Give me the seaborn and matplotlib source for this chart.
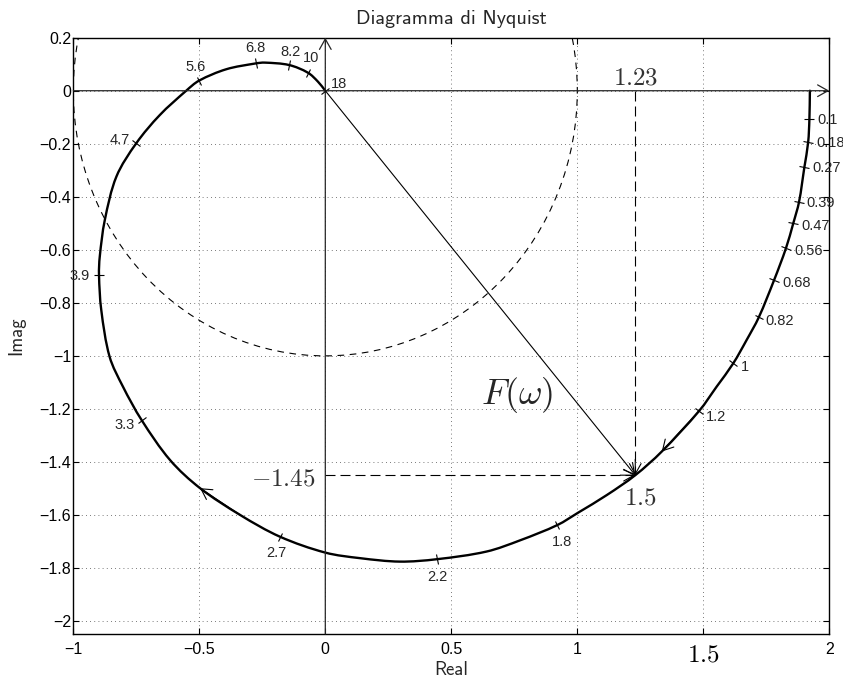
import numpy as np
import pandas as pd
import matplotlib
matplotlib.use("Agg")
import matplotlib.pyplot as plt
import seaborn as sns
from matplotlib.markers import MarkerStyle
from matplotlib.transforms import Affine2D
from matplotlib.patches import Circle, PathPatch
from matplotlib.path import Path

# Nyquist locus of F(jw), traced from w -> 0 up to w = 18 rad/s
re_curve = [1.923, 1.921, 1.916, 1.901, 1.880, 1.857, 1.828, 1.781, 1.720, 1.672,
            1.619, 1.553, 1.484, 1.335, 1.23, 1.117, 1.004, 0.921, 0.775, 0.640,
            0.442, 0.296, 0.138, 0.000, -0.180, -0.338, -0.497, -0.616, -0.729, -0.803,
            -0.856, -0.889, -0.898, -0.895, -0.875, -0.829, -0.750, -0.657, -0.552, -0.501,
            -0.393, -0.276, -0.240, -0.144, -0.069, -0.029, 0.000]
im_curve = [0.000, -0.108, -0.195, -0.289, -0.419, -0.500, -0.594, -0.714, -0.855, -0.940,
            -1.028, -1.116, -1.207, -1.361, -1.45, -1.525, -1.591, -1.638, -1.695, -1.738,
            -1.767, -1.776, -1.763, -1.742, -1.682, -1.600, -1.499, -1.393, -1.242, -1.116,
            -1.003, -0.827, -0.695, -0.626, -0.488, -0.324, -0.198, -0.092, 0.000, 0.038,
            0.081, 0.103, 0.106, 0.097, 0.068, 0.034, 0.000]

# labelled frequencies (rad/s) and their points on the locus
w_marks = ["0.1", "0.18", "0.27", "0.39", "0.47", "0.56", "0.68", "0.82", "1", "1.2",
           "1.8", "2.2", "2.7", "3.3", "3.9", "4.7", "5.6", "6.8", "8.2", "10", "18"]
re_marks = [1.921, 1.916, 1.901, 1.880, 1.857, 1.828, 1.781, 1.720, 1.619, 1.484,
            0.921, 0.442, -0.180, -0.729, -0.898, -0.750, -0.501, -0.276, -0.144, -0.069, 0.000]
im_marks = [-0.108, -0.195, -0.289, -0.419, -0.500, -0.594, -0.714, -0.855, -1.028, -1.207,
            -1.638, -1.767, -1.682, -1.242, -0.695, -0.198, 0.038, 0.103, 0.097, 0.068, 0.000]

# highlighted vector F(w) at w = 1.5
w_vec = 1.5
re_vec = 1.23
im_vec = -1.45

x_ticks = [-1, -0.5, 0, 0.5, 1, 1.5, 2]
x_ticklabels = ["\u22121", "\u22120.5", "0", "0.5", "1", r"$1.5$", "2"]
y_ticks = [0.2, 0, -0.2, -0.4, -0.6, -0.8, -1, -1.2, -1.4, -1.6, -1.8, -2]
y_ticklabels = ["0.2", "0", "\u22120.2", "\u22120.4", "\u22120.6", "\u22120.8", "\u22121",
                "\u22121.2", "\u22121.4", "\u22121.6", "\u22121.8", "\u22122"]

# label placement for each frequency mark: (dx, dy) in points, ha
mark_offsets = [(5.5, -0.5), (5.8, -0.7), (5.8, -0.7), (5.5, -0.7), (5.5, -1.7), (5.8, -1.7),
                (5.8, -2.4), (5.0, -2.4), (5.3, -2.9), (4.8, -4.8),
                (3.2, -12), (0.4, -13), (-2.4, -12), (-5.3, -3.6), (-6.5, -0.5), (-4.8, 2.4),
                (-2.5, 9.6), (-0.4, 10.8), (1.1, 9.6), (2.4, 10.4), (4.3, 4.8)]
mark_ha = ["left"] * 10 + ["center"] * 3 + ["right"] * 3 + ["center"] * 4 + ["left"]
curve_arrow_idx = [13, 26]


def smooth_path(xs, ys):
    """Cubic Bezier path passing through every vertex (C1-continuous)."""
    P = np.column_stack([xs, ys]).astype(float)
    d = np.hypot(*(np.diff(P, axis=0).T))
    n = len(P)
    T = np.zeros_like(P)
    T[0] = (P[1] - P[0]) / d[0]
    T[-1] = (P[-1] - P[-2]) / d[-1]
    for i in range(1, n - 1):
        T[i] = (P[i + 1] - P[i - 1]) / (d[i - 1] + d[i])
    verts = [P[0]]
    codes = [Path.MOVETO]
    for i in range(n - 1):
        verts += [P[i] + T[i] * d[i] / 3, P[i + 1] - T[i + 1] * d[i] / 3, P[i + 1]]
        codes += [Path.CURVE4] * 3
    return Path(verts, codes)


sns.set_style("ticks")
plt.rcParams["font.family"] = ["Liberation Sans", "DejaVu Sans"]
plt.rcParams["mathtext.fontset"] = "cm"

fig = plt.figure(figsize=(8.43, 6.77), dpi=100)
ax = fig.add_axes([0.08695, 0.06352, 0.8968, 0.8808])
ax.set_xlim(-1, 2)
ax.set_ylim(-2.049, 0.2)

# grid and frame
ax.set_xticks(x_ticks)
ax.set_xticklabels(x_ticklabels)
ax.set_yticks(y_ticks)
ax.set_yticklabels(y_ticklabels)
ax.grid(True, linestyle=(0, (1, 4)), color="0.3", lw=0.6)
ax.tick_params(direction="in", length=4, width=0.8, top=True, right=True,
               labelsize=11.5, colors="k")
ax.tick_params(axis="y", pad=1.5)
ax.tick_params(axis="x", pad=6)
ax.get_xticklabels()[5].set_fontsize(18)
for s in ax.spines.values():
    s.set_linewidth(1.0)
    s.set_color("k")

head = "->, head_length=0.75, head_width=0.42"

# real and imaginary axes with arrowheads
ax.annotate("", xy=(2, 0), xytext=(-1, 0),
            arrowprops=dict(arrowstyle=head, lw=0.9, color="0.15", shrinkA=0, shrinkB=0))
ax.annotate("", xy=(0, 0.2), xytext=(0, -2.049),
            arrowprops=dict(arrowstyle=head, lw=0.9, color="0.15", shrinkA=0, shrinkB=0))

# unit circle
ax.add_patch(Circle((0, 0), 1, fill=False, ec="k", lw=0.8, ls=(0, (6, 5))))

# locus, drawn as a smooth curve through the sampled points
ax.add_patch(PathPatch(smooth_path(re_curve, im_curve), fill=False, ec="k", lw=1.7,
                       capstyle="round", joinstyle="round"))

# direction arrows on the locus
for i in curve_arrow_idx:
    ax.annotate("", xy=(re_curve[i], im_curve[i]), xytext=(re_curve[i - 1], im_curve[i - 1]),
                arrowprops=dict(arrowstyle=head, lw=0.8, color="k", shrinkA=0, shrinkB=0))

# frequency ticks perpendicular to the locus, with their labels
fig.canvas.draw()
pts = ax.transData.transform(np.column_stack([re_curve, im_curve]))
for lab, xr, yi, off, ha in zip(w_marks, re_marks, im_marks, mark_offsets, mark_ha):
    k = int(np.argmin(np.hypot(np.array(re_curve) - xr, np.array(im_curve) - yi)))
    a = pts[max(k - 1, 0)]
    b = pts[min(k + 1, len(pts) - 1)]
    ang = np.degrees(np.arctan2(b[1] - a[1], b[0] - a[0]))
    m = MarkerStyle("|", transform=Affine2D().rotate_deg(ang))
    ax.plot([xr], [yi], marker=m, ms=7, mew=0.8, color="k", ls="none")
    ax.annotate(lab, xy=(xr, yi), xytext=off, textcoords="offset points",
                ha=ha, va="center", fontsize=10.5)

# vector F(w) and its projections on the axes
ax.annotate("", xy=(re_vec, im_vec), xytext=(0, 0),
            arrowprops=dict(arrowstyle=head, lw=0.8, color="k", shrinkA=0, shrinkB=0))
dash = (0, (9, 4.5))
proj = pd.DataFrame({"Re": [re_vec, re_vec, 0, re_vec],
                     "Im": [0, im_vec, im_vec, im_vec],
                     "seg": ["v", "v", "h", "h"]})
sns.lineplot(data=proj, x="Re", y="Im", units="seg", sort=False, estimator=None,
             color="k", lw=0.8, ls=dash, ax=ax)
ax.annotate("", xy=(re_vec, im_vec), xytext=(re_vec, im_vec + 0.06),
            arrowprops=dict(arrowstyle=head, lw=0.8, color="k", shrinkA=0, shrinkB=0))
ax.annotate("", xy=(re_vec, im_vec), xytext=(re_vec - 0.06, im_vec),
            arrowprops=dict(arrowstyle=head, lw=0.8, color="k", shrinkA=0, shrinkB=0))

ax.text(re_vec, 0.022, rf"${re_vec:.2f}$", fontsize=18, ha="center", va="baseline", color="0.2")
ax.text(-0.04, im_vec - 0.04, rf"${im_vec:.2f}$", fontsize=18, ha="right", va="baseline", color="0.2")
ax.text(re_vec + 0.022, im_vec - 0.112, rf"${w_vec:g}$", fontsize=18, ha="center", va="baseline", color="0.2")
ax.text(0.763, -1.148, r"$F(\omega)$", fontsize=26, ha="center", va="center")

ax.set_title("Diagramma di Nyquist", family="cmss10", fontsize=14.5, pad=10)
ax.set_xlabel("Real", family="cmss10", fontsize=13.5)
ax.set_ylabel("Imag", family="cmss10", fontsize=13.5)
ax.xaxis.set_label_coords(0.5, -0.045)
ax.yaxis.set_label_coords(-0.0635, 0.5)

fig.savefig("out.png", dpi=100)
